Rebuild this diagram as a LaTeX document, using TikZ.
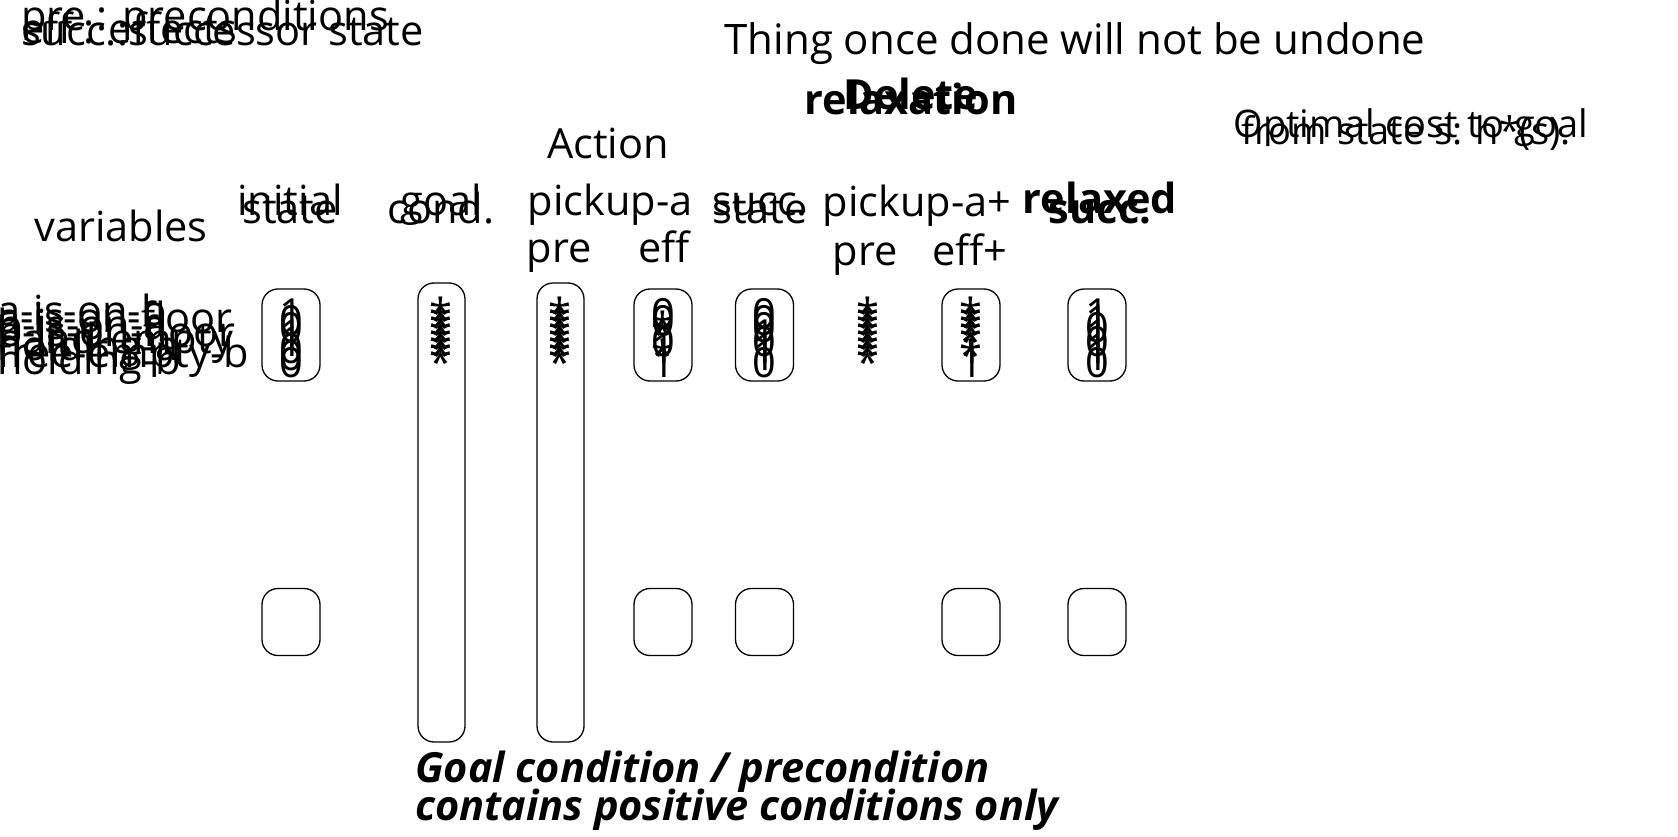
\documentclass[tikz,border=0pt]{standalone}
\usepackage{fontspec}
\setmainfont{Open Sans}
\newcommand\valcol[3]{%
  \foreach \v [count=\i from 0] in {#3}
    \node[val] (#1\i) at (#2,{328+7*\i}) {\v};}
\begin{document}
\begin{tikzpicture}[x=1pt,y=-1pt,
  txt/.style={font=\fontsize{41.5}{48}\selectfont, inner sep=0pt, anchor=base},
  txtw/.style={txt, anchor=base west},
  boldtxt/.style={font=\fontsize{41.5}{48}\selectfont\bfseries, inner sep=0pt, anchor=base},
  smalltxt/.style={font=\fontsize{38}{44}\selectfont, inner sep=0pt, anchor=base},
  note/.style={font=\fontsize{41.5}{48}\selectfont\bfseries\itshape, inner sep=0pt, anchor=base west},
  val/.style={font=\fontsize{41.5}{48}\selectfont, inner sep=0pt, anchor=base},
  cellbox/.style={draw, line width=1.3pt, rounded corners=16pt, inner sep=0pt, minimum width=58},
  tallbox/.style={draw, line width=1.3pt, rounded corners=16pt, inner sep=0pt, minimum width=47, minimum height=459}]
\useasboundingbox (0,0) rectangle (1678,837);

% legend
\node[txtw] (lpre) at (21,31) {pre : preconditions};
\node[txtw] (leff) at (21,44) {eff : effects};
\node[txtw] (lsucc) at (21,46) {succ.:successor state};

% titles
\node[txt, font=\fontsize{42}{48}\selectfont] (thing) at (1075,55) {Thing once done will not be undone};
\node[boldtxt] (del) at (911,110) {Delete};
\node[boldtxt] (relax) at (911,115) {relaxation};
\node[smalltxt] (opt1) at (1411,138) {Optimal cost to goal};
\node[smalltxt] (opt2) at (1406,145) {from state s: h*(s).};
\node[txt] (action) at (608,159) {Action};

% column headers
\node[txt] (hvar) at (121,241) {variables};
\node[txt] (hini1) at (290,215) {initial};
\node[txt] (hini2) at (290,224) {state};
\node[txt] (hgoal1) at (441,215) {goal};
\node[txt] (hgoal2) at (441,224) {cond.};
\node[txt] (hpa) at (610,215) {pickup-a};
\node[txt] (hpre) at (559,262) {pre};
\node[txt] (heff) at (664,262) {eff};
\node[txt] (hsucc1) at (760,215) {succ.};
\node[txt] (hsucc2) at (760,224) {state};
\node[txt] (hpap) at (917,217) {pickup-a+};
\node[txt] (hprep) at (865,265) {pre};
\node[txt] (heffp) at (970,265) {eff+};
\node[boldtxt] (hrel1) at (1100,214) {relaxed};
\node[boldtxt] (hrel2) at (1100,223) {succ.};

% boxes
\node[cellbox, minimum height=92] (bini) at (291,335) {};
\node[cellbox, minimum height=67] (bini2) at (291,622) {};
\node[tallbox] (bgoal) at (441.5,512.5) {};
\node[tallbox] (bpre) at (560.5,512.5) {};
\node[cellbox, minimum height=92] (beff) at (663,335) {};
\node[cellbox, minimum height=67] (beff2) at (663,622) {};
\node[cellbox, minimum height=92] (bsucc) at (764.5,335) {};
\node[cellbox, minimum height=67] (bsucc2) at (764.5,622) {};
\node[cellbox, minimum height=92] (beffp) at (971,335) {};
\node[cellbox, minimum height=67] (beffp2) at (971,622) {};
\node[cellbox, minimum height=92] (brel) at (1097,335) {};
\node[cellbox, minimum height=67] (brel2) at (1097,622) {};

% variable names
\foreach \t [count=\i from 0] in {a-is-on-b,a-is-on-floor,b-is-on-a,b-is-on-floor,hand-empty,holding-a,free-empty-b,holding-b}
  \node[txtw] (var\i) at (-3,{325+7*\i}) {\t};

% values
\valcol{ini}{291}{1,0,0,1,1,0,0,0}
\valcol{goal}{441}{*,*,*,*,*,*,*,*}
\valcol{pre}{560}{*,*,*,*,*,*,*,*}
\valcol{eff}{663}{0,0,*,*,0,1,*,1}
\valcol{succ}{764}{0,0,0,1,0,1,1,0}
\valcol{prep}{868}{*,*,*,*,*,*,*,*}
\valcol{effp}{971}{*,*,*,*,*,1,*,1}
\valcol{rel}{1097}{1,1,0,1,0,1,1,0}

% note
\node[note] (n1) at (415,782) {Goal condition / precondition};
\node[note] (n2) at (415,820) {contains positive conditions only};
\end{tikzpicture}
\end{document}
